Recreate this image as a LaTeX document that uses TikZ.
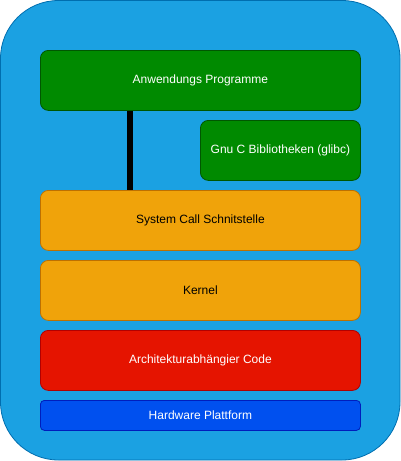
\documentclass[tikz,border=0pt]{standalone}
\usepackage{fontspec}
\setmainfont{Liberation Sans}
\definecolor{outerfill}{HTML}{1BA1E2}
\definecolor{outerdraw}{HTML}{006EAF}
\definecolor{gfill}{HTML}{008A00}
\definecolor{gdraw}{HTML}{005700}
\definecolor{ofill}{HTML}{F0A30A}
\definecolor{odraw}{HTML}{BD7000}
\definecolor{rfill}{HTML}{E51400}
\definecolor{rdraw}{HTML}{B20000}
\definecolor{bfill}{HTML}{0050EF}
\definecolor{bdraw}{HTML}{001DBC}
\begin{document}
\begin{tikzpicture}[x=1pt,y=-1pt,
  layer/.style={rounded corners=8pt, line width=0.8pt, inner sep=0pt, anchor=north west,
    font=\fontsize{12}{14}\selectfont},
  green/.style={layer, fill=gfill, draw=gdraw, text=white},
  orange/.style={layer, fill=ofill, draw=odraw, text=black},
  red/.style={layer, fill=rfill, draw=rdraw, text=white},
  blue/.style={layer, fill=bfill, draw=bdraw, text=white, rounded corners=4pt},
  link/.style={line width=6pt, draw=black}]
\useasboundingbox (0,0) rectangle (401,461);
\draw[fill=outerfill, draw=outerdraw, line width=0.8pt, rounded corners=58pt] (0.5,0.5) rectangle (400,460);
\node[green, minimum width=320pt, minimum height=60pt] (app) at (40,50) {Anwendungs Programme};
\node[green, minimum width=160pt, minimum height=60pt] (glibc) at (200,120) {Gnu C Bibliotheken (glibc)};
\node[orange, minimum width=320pt, minimum height=60pt] (sys) at (40,190) {System Call Schnitstelle};
\node[orange, minimum width=320pt, minimum height=60pt] (kern) at (40,260) {Kernel};
\node[red, minimum width=320pt, minimum height=60pt] (arch) at (40,330) {Architekturabhängier Code};
\node[blue, minimum width=320pt, minimum height=30pt] (hw) at (40,400) {Hardware Plattform};
\draw[link] ([xshift=90pt]app.south west) -- ([xshift=90pt]sys.north west);
\end{tikzpicture}
\end{document}
